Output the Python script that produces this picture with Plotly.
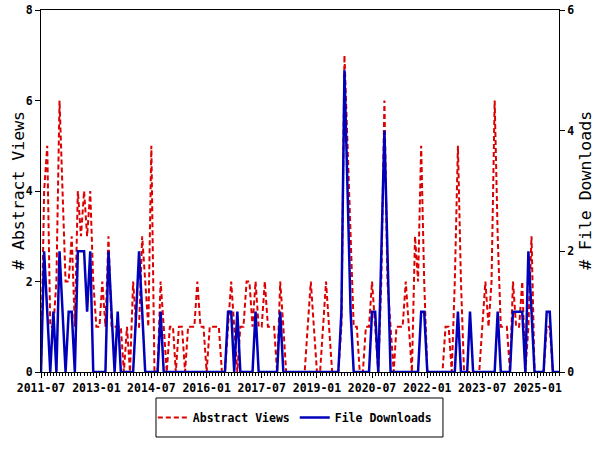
import pandas as pd
import plotly.graph_objects as go

### Monthly counts, 2011-07 .. 2025-08
months = pd.date_range('2011-07-01', '2025-08-01', freq='MS')

abstract_views = [
    0, 4, 5, 1, 1, 2, 6, 4, 2, 2, 3, 1, 4, 3, 4, 3, 4, 2, 1, 1,
    2, 1, 3, 1, 1, 1, 1, 0, 1, 0, 2, 1, 1, 3, 2, 1, 5, 0, 0, 2,
    1, 0, 1, 1, 0, 1, 1, 0, 1, 1, 1, 2, 1, 1, 0, 1, 1, 1, 1, 0,
    0, 1, 2, 1, 0, 1, 1, 2, 2, 1, 2, 1, 1, 2, 1, 1, 1, 0, 2, 1,
    0, 0, 0, 0, 0, 0, 0, 1, 2, 1, 0, 0, 1, 2, 1, 0, 0, 0, 1, 7,
    5, 3, 1, 1, 0, 0, 1, 1, 2, 1, 0, 2, 6, 2, 1, 0, 1, 1, 1, 2,
    1, 0, 3, 2, 5, 2, 0, 0, 0, 0, 0, 0, 1, 1, 0, 2, 5, 2, 0, 0,
    0, 0, 0, 0, 1, 2, 1, 2, 6, 3, 1, 1, 1, 0, 2, 1, 1, 2, 0, 1,
    3, 0, 0, 0, 0, 1, 1, 0, 0, 0,
]

file_downloads = [
    0, 2, 1, 0, 1, 0, 2, 1, 0, 1, 1, 0, 2, 2, 2, 1, 2, 0, 0, 0,
    0, 0, 2, 1, 0, 1, 0, 0, 0, 0, 0, 1, 2, 1, 0, 0, 0, 0, 0, 1,
    0, 0, 0, 0, 0, 0, 0, 0, 0, 0, 0, 0, 0, 0, 0, 0, 0, 0, 0, 0,
    0, 1, 1, 0, 1, 0, 0, 0, 0, 0, 1, 0, 0, 0, 0, 0, 0, 0, 1, 0,
    0, 0, 0, 0, 0, 0, 0, 0, 0, 0, 0, 0, 0, 0, 0, 0, 0, 0, 1, 5,
    3, 1, 0, 0, 0, 0, 0, 0, 1, 1, 0, 2, 4, 2, 0, 0, 0, 0, 0, 0,
    0, 0, 0, 0, 1, 1, 0, 0, 0, 0, 0, 0, 0, 0, 0, 0, 1, 0, 0, 0,
    1, 0, 0, 0, 0, 0, 0, 0, 0, 1, 0, 0, 0, 0, 1, 1, 1, 1, 0, 2,
    1, 0, 0, 0, 0, 1, 1, 0, 0, 0,
]

tick_labels = ['2011-07', '2013-01', '2014-07', '2016-01', '2017-07',
               '2019-01', '2020-07', '2022-01', '2023-07', '2025-01']

mono = 'DejaVu Sans Mono'
tick_font = dict(family=mono, size=11.5, color='black', weight='bold')
title_font = dict(family=mono, size=16.5, color='black')

fig = go.Figure()

# Abstract views (left axis)
fig.add_trace(
    go.Scatter(
        name='Abstract Views',
        x=months,
        y=abstract_views,
        mode='lines',
        line=dict(color='#DD0000', width=2, dash='5px,3px')
    ))
# File downloads (right axis)
fig.add_trace(
    go.Scatter(
        name='File Downloads',
        x=months,
        y=file_downloads,
        mode='lines',
        yaxis='y2',
        line=dict(color='#0000BB', width=2.5)
    ))

# axis titles placed by hand so the margins stay fixed
fig.add_annotation(text='# Abstract Views', xref='paper', yref='paper',
                   x=-0.0425, y=0.503, xanchor='center', yanchor='middle',
                   textangle=-90, showarrow=False, font=title_font)
fig.add_annotation(text='# File Downloads', xref='paper', yref='paper',
                   x=1.052, y=0.503, xanchor='center', yanchor='middle',
                   textangle=-90, showarrow=False, font=title_font)

# legend frame
fig.add_shape(type='rect', xref='paper', yref='paper',
              x0=0.222, x1=0.776, y0=-0.0718, y1=-0.1796,
              line=dict(color='black', width=1), fillcolor='white', layer='below')

fig.update_layout(
    width=600,
    height=450,
    margin=dict(l=41, r=41, t=10, b=78, autoexpand=False),
    paper_bgcolor='white',
    plot_bgcolor='white',
    showlegend=True,
    legend={'orientation': 'h',
            'xanchor': 'center',
            'x': 0.49,
            'yanchor': 'middle',
            'y': -0.1257,
            'bgcolor': 'rgba(0,0,0,0)',
            'borderwidth': 0,
            'font': dict(family=mono, size=11.5, color='black', weight='bold'),
            'itemwidth': 30},
    xaxis=dict(
        type='date',
        range=[months[0], months[-1]],
        tickvals=[pd.Timestamp(t + '-01') for t in tick_labels],
        ticktext=tick_labels,
        ticks='outside', ticklen=5, tickcolor='black',
        minor=dict(dtick='M1', ticks='outside', ticklen=3, tickcolor='black'),
        showline=True, linecolor='black', linewidth=1, mirror=True,
        showgrid=False, zeroline=False, automargin=False,
        ticklabeloverflow='allow', tickfont=tick_font
    ),
    yaxis=dict(
        range=[0, 8], dtick=2,
        ticks='outside', ticklen=5, tickcolor='black',
        showline=True, linecolor='black', linewidth=1,
        showgrid=False, zeroline=False, automargin=False,
        ticklabeloverflow='allow', tickfont=tick_font
    ),
    yaxis2=dict(
        range=[0, 6], dtick=2, overlaying='y', side='right',
        ticks='outside', ticklen=5, tickcolor='black',
        showline=True, linecolor='black', linewidth=1,
        showgrid=False, zeroline=False, automargin=False,
        ticklabeloverflow='allow', tickfont=tick_font
    )
)

# drop the page's default body margin so the figure sits at the top-left corner
fig.write_html('out.html', config={'displayModeBar': False},
               post_script="document.body.style.margin='0px';")
